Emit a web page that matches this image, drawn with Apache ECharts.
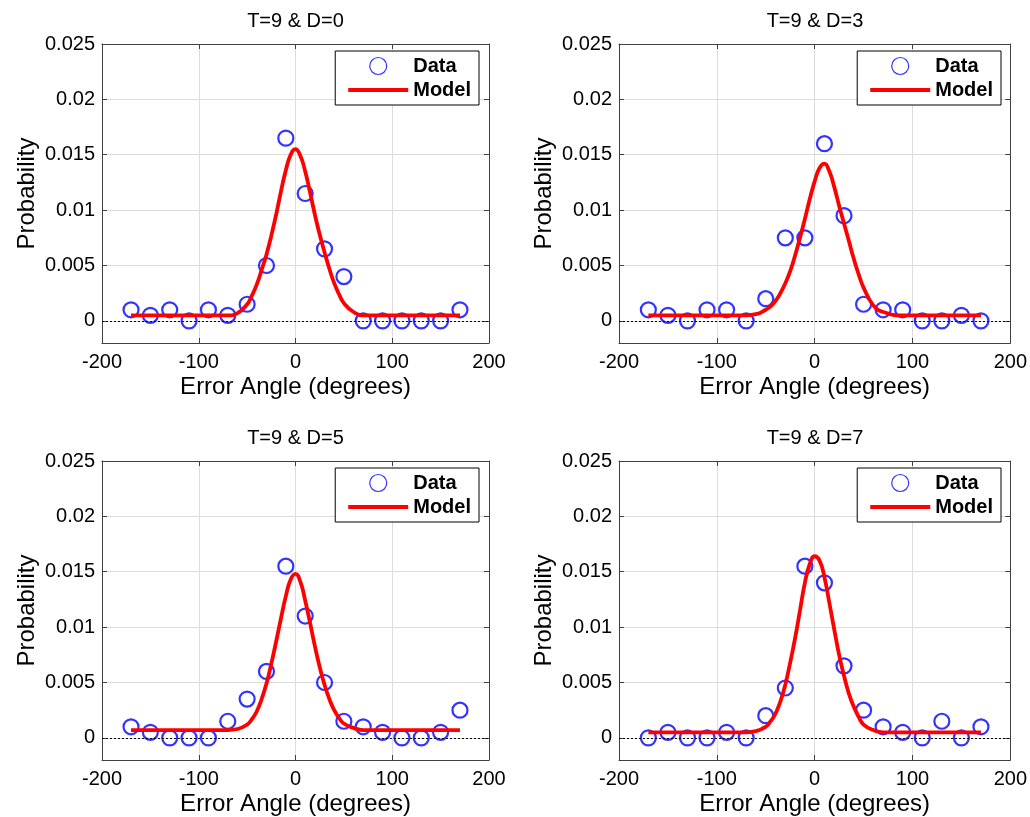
<!DOCTYPE html>
<html>
<head>
<meta charset="utf-8">
<script src="https://cdn.jsdelivr.net/npm/echarts@6/dist/echarts.min.js"></script>
<style>
  html, body { margin: 0; padding: 0; background: #fff; }
  #chart { width: 1030px; height: 817px; }
</style>
</head>
<body>
<div id="chart"></div>
<script>
// Error-angle bins (degrees) for the observed probabilities
const angleBins = [-170, -150, -130, -110, -90, -70, -50, -30, -10, 10, 30, 50, 70, 90, 110, 130, 150, 170];

// Observed probabilities per distractor condition
const dataD0 = [0.001, 0.0005, 0.001, 0, 0.001, 0.0005, 0.0015, 0.005, 0.0165, 0.0115, 0.0065, 0.004, 0, 0, 0, 0, 0, 0.001];
const dataD3 = [0.001, 0.0005, 0, 0.001, 0.001, 0, 0.002, 0.0075, 0.0075, 0.016, 0.0095, 0.0015, 0.001, 0.001, 0, 0, 0.0005, 0];
const dataD5 = [0.001, 0.0005, 0, 0, 0, 0.0015, 0.0035, 0.006, 0.0155, 0.011, 0.005, 0.0015, 0.001, 0.0005, 0, 0, 0.0005, 0.0025];
const dataD7 = [0, 0.0005, 0, 0, 0.0005, 0, 0.002, 0.0045, 0.0155, 0.014, 0.0065, 0.0025, 0.001, 0.0005, 0, 0.0015, 0, 0.001];

// Angles at which the fitted model curve is sampled
const modelAngles = [-170, -150, -130, -110, -90, -70, -60, -50, -45, -40, -35, -30, -25, -20, -15, -10, -5, 0,
                     5, 10, 15, 20, 25, 30, 35, 40, 45, 50, 60, 70, 90, 110, 130, 150, 170];

// Fitted model probabilities
const modelD0 = [0.0005, 0.0005, 0.0005, 0.0005, 0.0005, 0.0005, 0.0007, 0.0015, 0.0023, 0.0033, 0.0046, 0.0060,
                 0.0077, 0.0096, 0.0117, 0.0136, 0.0150, 0.0155, 0.0149, 0.0135, 0.0116, 0.0096, 0.0078, 0.0062,
                 0.0047, 0.0034, 0.0024, 0.0016, 0.0008, 0.0005, 0.0005, 0.0005, 0.0005, 0.0005, 0.0005];
const modelD3 = [0.0005, 0.0005, 0.0005, 0.0005, 0.0005, 0.0005, 0.0006, 0.0010, 0.0013, 0.0018, 0.0025, 0.0034,
                 0.0045, 0.0059, 0.0075, 0.0092, 0.0110, 0.0126, 0.0138, 0.0142, 0.0135, 0.0121, 0.0104, 0.0088,
                 0.0072, 0.0056, 0.0042, 0.0030, 0.0014, 0.0008, 0.0005, 0.0005, 0.0005, 0.0005, 0.0005];
const modelD5 = [0.0007, 0.0007, 0.0007, 0.0007, 0.0007, 0.0007, 0.0008, 0.0012, 0.0017, 0.0024, 0.0035, 0.0049,
                 0.0067, 0.0087, 0.0108, 0.0128, 0.0143, 0.0148, 0.0141, 0.0124, 0.0104, 0.0083, 0.0064, 0.0048,
                 0.0035, 0.0025, 0.0018, 0.0013, 0.0009, 0.0007, 0.0007, 0.0007, 0.0007, 0.0007, 0.0007];
const modelD7 = [0.0005, 0.0005, 0.0005, 0.0005, 0.0005, 0.0005, 0.0006, 0.0010, 0.0015, 0.0022, 0.0033, 0.0048,
                 0.0068, 0.0090, 0.0115, 0.0140, 0.0157, 0.0164, 0.0160, 0.0145, 0.0122, 0.0098, 0.0075, 0.0056,
                 0.0040, 0.0028, 0.0019, 0.0012, 0.0007, 0.0005, 0.0005, 0.0005, 0.0005, 0.0005, 0.0005];

const panelTitles = ['T=9 & D=0', 'T=9 & D=3', 'T=9 & D=5', 'T=9 & D=7'];
const probabilityTicks = [0, 0.005, 0.01, 0.015, 0.02, 0.025];
const angleMin = -200, angleMax = 200, angleStep = 100;
const probMin = -0.002, probMax = 0.025;

const FONT = '"Liberation Sans", Arial, Helvetica, sans-serif';
const AXIS_COLOR = '#404040';
const GRID_COLOR = '#dcdcdc';
const DATA_BLUE = '#0000ff';
const MODEL_RED = '#ff0000';

// Panel boxes in a 2x2 arrangement
const panels = [
  { title: panelTitles[0], data: dataD0, model: modelD0, left: 102, top: 44, width: 387, height: 299 },
  { title: panelTitles[1], data: dataD3, model: modelD3, left: 619, top: 44, width: 392, height: 299 },
  { title: panelTitles[2], data: dataD5, model: modelD5, left: 102, top: 461, width: 387, height: 299 },
  { title: panelTitles[3], data: dataD7, model: modelD7, left: 619, top: 461, width: 392, height: 299 }
];

const zip = (xs, ys) => xs.map((x, i) => [x, ys[i]]);

const grid = [], xAxis = [], yAxis = [], series = [], title = [], legend = [];

panels.forEach((p, i) => {
  grid.push({ left: p.left, top: p.top, width: p.width, height: p.height, show: false });

  const tickCommon = { show: true, inside: true, length: 5, lineStyle: { color: AXIS_COLOR, width: 1 } };
  const lineCommon = { show: true, onZero: false, lineStyle: { color: AXIS_COLOR, width: 1 } };

  // bottom and top angle axes
  xAxis.push({
    gridIndex: i, type: 'value', position: 'bottom',
    min: angleMin, max: angleMax, interval: angleStep,
    axisLine: lineCommon, axisTick: tickCommon,
    axisLabel: { color: '#000', fontSize: 20, fontFamily: FONT, margin: 9 },
    splitLine: { show: true, lineStyle: { color: GRID_COLOR, width: 1 } },
    name: 'Error Angle (degrees)', nameLocation: 'middle', nameGap: 32,
    nameTextStyle: { color: '#000', fontSize: 24, fontFamily: FONT }
  });
  xAxis.push({
    gridIndex: i, type: 'value', position: 'top',
    min: angleMin, max: angleMax, interval: angleStep,
    axisLine: lineCommon, axisTick: tickCommon,
    axisLabel: { show: false }, splitLine: { show: false }
  });

  // left and right probability axes
  yAxis.push({
    gridIndex: i, type: 'value', position: 'left',
    min: probMin, max: probMax,
    axisLine: lineCommon,
    axisTick: Object.assign({}, tickCommon, { customValues: probabilityTicks }),
    axisLabel: { color: '#000', fontSize: 20, fontFamily: FONT, margin: 7, customValues: probabilityTicks },
    splitLine: { show: true, lineStyle: { color: GRID_COLOR, width: 1 } },
    name: 'Probability', nameLocation: 'middle', nameGap: 63,
    nameTextStyle: { color: '#000', fontSize: 24, fontFamily: FONT }
  });
  yAxis.push({
    gridIndex: i, type: 'value', position: 'right',
    min: probMin, max: probMax,
    axisLine: lineCommon,
    axisTick: Object.assign({}, tickCommon, { customValues: probabilityTicks }),
    axisLabel: { show: false, customValues: probabilityTicks }, splitLine: { show: false }
  });

  series.push({
    name: 'Data', type: 'scatter',
    xAxisIndex: 2 * i, yAxisIndex: 2 * i,
    symbol: 'circle', symbolSize: 15,
    itemStyle: { color: 'rgba(0,0,0,0)', borderColor: DATA_BLUE, borderWidth: 2.2 },
    data: zip(angleBins, p.data),
    markLine: {
      silent: true, symbol: ['none', 'none'], label: { show: false },
      lineStyle: { type: [2, 2], color: '#000', width: 1 },
      emphasis: { disabled: true },
      data: [{ yAxis: 0 }]
    }
  });
  series.push({
    name: 'Model', type: 'line',
    xAxisIndex: 2 * i, yAxisIndex: 2 * i,
    showSymbol: false, symbol: 'none', smooth: 0.5,
    lineStyle: { color: MODEL_RED, width: 3.8 },
    itemStyle: { color: MODEL_RED },
    data: zip(modelAngles, p.model)
  });

  title.push({
    text: p.title, left: p.left + p.width / 2, top: p.top - 33, textAlign: 'center', padding: 0,
    textStyle: { color: '#000', fontSize: 20, fontWeight: 'normal', fontFamily: FONT }
  });

  legend.push({
    data: [
      { name: 'Data', itemStyle: { color: 'rgba(0,0,0,0)', borderColor: DATA_BLUE, borderWidth: 1.2 } },
      // plain thick red stroke as the model key
      { name: 'Model', icon: 'path://M0 0H60V4H0Z', itemStyle: { color: MODEL_RED, borderWidth: 0 } }
    ],
    orient: 'vertical', selectedMode: false,
    right: 1030 - (p.left + p.width - 10), top: p.top + 7,
    backgroundColor: '#fff', borderColor: '#000', borderWidth: 1,
    padding: [5, 8, 5, 13], itemWidth: 60, itemHeight: 17, itemGap: 4,
    textStyle: { color: '#000', fontSize: 20, fontWeight: 'bold', fontFamily: FONT }
  });
});

const chart = echarts.init(document.getElementById('chart'), null, { renderer: 'canvas' });
chart.setOption({
  animation: false,
  backgroundColor: '#fff',
  title, legend, grid, xAxis, yAxis, series
});
</script>
</body>
</html>
